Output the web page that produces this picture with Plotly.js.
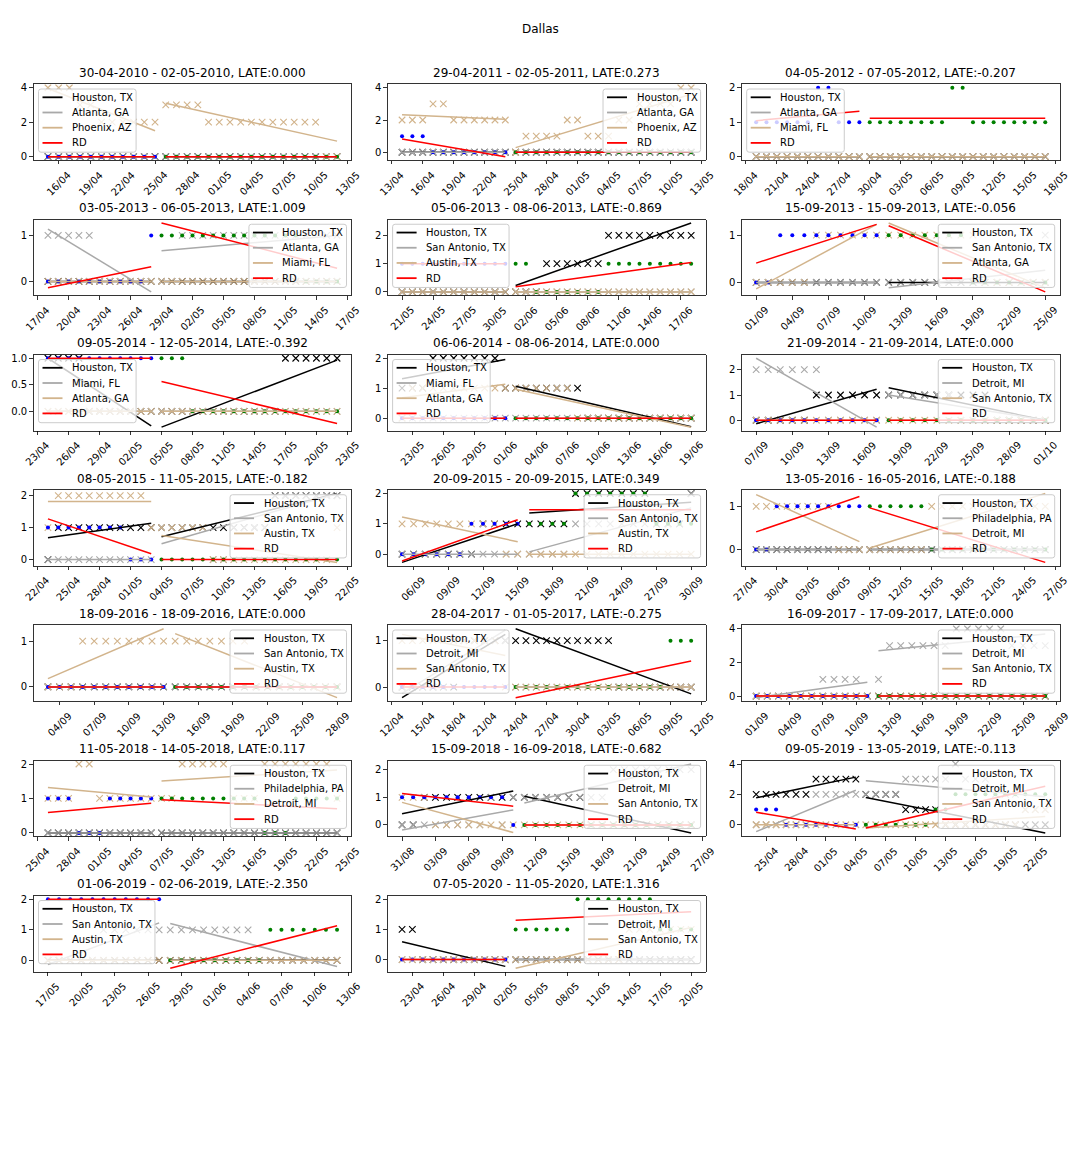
<!DOCTYPE html>
<html><head><meta charset="utf-8">
<script src="https://cdn.plot.ly/plotly-3.0.1.min.js"></script>
<style>html,body{margin:0;padding:0;background:#fff}</style>
</head><body><div id="chart" style="width:1080px;height:1152px"></div>
<script>
// ---------------- DATA ----------------
const suptitle = 'Dallas';
const titles = [
 '30-04-2010 - 02-05-2010, LATE:0.000','29-04-2011 - 02-05-2011, LATE:0.273','04-05-2012 - 07-05-2012, LATE:-0.207',
 '03-05-2013 - 06-05-2013, LATE:1.009','05-06-2013 - 08-06-2013, LATE:-0.869','15-09-2013 - 15-09-2013, LATE:-0.056',
 '09-05-2014 - 12-05-2014, LATE:-0.392','06-06-2014 - 08-06-2014, LATE:0.000','21-09-2014 - 21-09-2014, LATE:0.000',
 '08-05-2015 - 11-05-2015, LATE:-0.182','20-09-2015 - 20-09-2015, LATE:0.349','13-05-2016 - 16-05-2016, LATE:-0.188',
 '18-09-2016 - 18-09-2016, LATE:0.000','28-04-2017 - 01-05-2017, LATE:-0.275','16-09-2017 - 17-09-2017, LATE:0.000',
 '11-05-2018 - 14-05-2018, LATE:0.117','15-09-2018 - 16-09-2018, LATE:-0.682','09-05-2019 - 13-05-2019, LATE:-0.113',
 '01-06-2019 - 02-06-2019, LATE:-2.350','07-05-2020 - 11-05-2020, LATE:1.316'];
const city1Name = 'Houston, TX';
const city2Names = ['Atlanta, GA','Atlanta, GA','Atlanta, GA','Atlanta, GA','San Antonio, TX','San Antonio, TX','Miami, FL','Miami, FL','Detroit, MI','San Antonio, TX','San Antonio, TX','Philadelphia, PA','San Antonio, TX','Detroit, MI','Detroit, MI','Philadelphia, PA','Detroit, MI','Detroit, MI','San Antonio, TX','Detroit, MI'];
const city3Names = ['Phoenix, AZ','Phoenix, AZ','Miami, FL','Miami, FL','Austin, TX','Atlanta, GA','Atlanta, GA','Atlanta, GA','San Antonio, TX','Austin, TX','Austin, TX','Detroit, MI','Austin, TX','San Antonio, TX','San Antonio, TX','Detroit, MI','San Antonio, TX','San Antonio, TX','Austin, TX','San Antonio, TX'];
const rdName = 'RD';
const preStarts = ['2010-04-15','2011-04-14','2012-04-19','2013-04-18','2013-05-21','2013-09-01','2014-04-24','2014-05-22','2014-09-07','2015-04-23','2015-09-05','2016-04-28','2016-09-03','2017-04-13','2017-09-01','2018-04-26','2018-08-31','2019-04-24','2019-05-17','2020-04-22'];
const postStarts = ['2010-04-26','2011-04-25','2012-04-30','2013-04-29','2013-06-01','2013-09-12','2014-05-05','2014-06-02','2014-09-18','2015-05-04','2015-09-16','2016-05-09','2016-09-14','2017-04-24','2017-09-12','2018-05-07','2018-09-11','2019-05-05','2019-05-28','2020-05-03'];
const tickStarts = ['2010-04-16','2011-04-13','2012-04-18','2013-04-17','2013-05-21','2013-09-01','2014-04-23','2014-05-23','2014-09-07','2015-04-22','2015-09-06','2016-04-27','2016-09-04','2017-04-12','2017-09-01','2018-04-25','2018-08-31','2019-04-25','2019-05-17','2020-04-23'];
const yTickSteps = [2,2,1,1,1,1,0.5,1,1,1,1,1,1,1,2,1,1,2,1,1];

const houstonPre = [
 [0,0,0,0,0,0,0,0,0,0,0],[0,0,0,0,0,0,0,0,0,0,0],[0,0,0,0,0,0,0,0,0,0,0],
 [0,0,0,0,0,0,0,0,0,0,0],[0,0,0,0,0,0,0,0,0,0,0],[0,0,0,0,0,0,0,0,0,0,0],
 [1,1,1,1,0,0,0,0,0,0,0],[1,1,1,2,2,2,2,2,2,2,1],[0,0,0,0,0,1,1,1,1,1,1],
 [0,1,1,1,1,1,1,1,1,1,1],[0,0,0,0,0,0,0,1,1,1,1],[0,0,0,0,0,0,0,0,0,0,0],
 [0,0,0,0,0,0,0,0,0,0,0],[0,0,0,0,0,0,1,1,1,1,1],[0,0,0,0,0,0,0,0,0,0,0],
 [0,0,0,0,0,0,0,0,0,0,0],[0,0,1,1,1,1,1,1,1,1,1],[2,2,2,2,2,2,3,3,3,3,3],
 [0,0,0,0,0,0,0,0,0,0,0],[1,1,0,0,0,0,0,0,0,0,0]];
const houstonPost = [
 [0,0,0,0,0,0,0,0,0,0,0,0,0,0,0,0,0],
 [0,0,0,0,0,0,0,0,0,0,0,0,0,0,0,0,0,0],
 [0,0,0,0,0,0,0,0,0,0,0,0,0,0,0,0,0,0],
 [0,0,0,0,0,0,0,0,0,0,0,0,0,0,0,0,0,0],
 [0,0,0,1,1,1,1,1,1,2,2,2,2,2,2,2,2,2],
 [0,0,0,0,0,0,0,0,0,0,0,0,0,0],
 [0,0,0,0,0,0,0,0,0,0,0,0,1,1,1,1,1,1],
 [1,1,1,1,1,1,1,0,0,0,0,0,0,0,0,0,0,0],
 [1,1,1,1,1,1,1,1,1,0,0,0,0,0],
 [1,1,1,1,1,1,1,1,1,1,1,2,2,2,2,2,2,2],
 [1,1,1,1,2,2,2,2,2,2,2,1,1,1,2],
 [0,0,0,0,0,0,0,0,0,0,0,0,0,0,0,0,0,0],
 [0,0,0,0,0,0,0,0,0,0,0,0,0,0,0],
 [1,1,1,1,1,1,1,1,1,1,0,0,0,0,0,0,0,0],
 [0,0,0,0,0,0,0,0,0,0,0,0,0,0,0,0],
 [0,0,0,0,0,0,0,0,0,0,0,0,0,0,0,0,0,0],
 [1,1,1,1,1,1,0,0,0,0,0,0,0,0,0,0],
 [2,2,2,2,1,1,1,1,0,0,0,0,0,0,0,0,0,0,0],
 [0,0,0,0,0,0,0,0,0,0,0,0,0,0,0,0],
 [0,0,0,0,0,0,0,0,0,0,0,0,0,0,0,0,0,0]];
const city2Pre = [
 [0,0,0,0,0,0,0,0,0,0,0],[0,0,0,0,0,0,0,0,0,0,0],[0,0,0,0,0,0,0,0,0,0,0],
 [1,1,1,1,1,0,0,0,0,0,0],[0,0,0,0,0,0,0,0,0,0,0],[0,0,0,0,0,0,0,0,0,0,0],
 [0,0,0,0,0,0,0,0,0,0,0],[0,0,0,0,0,0,0,0,0,0,0],[2,2,2,2,2,2,0,0,0,0,0],
 [0,0,0,0,0,0,0,0,0,0,0],[0,0,0,0,0,0,0,0,0,0,0],[0,0,0,0,0,0,0,0,0,0,0],
 [0,0,0,0,0,0,0,0,0,0,0],[0,0,0,0,0,1,1,1,1,1,1],[0,0,0,0,0,0,1,1,1,1,0],
 [0,0,0,0,0,0,0,0,0,0,0],[0,0,0,0,0,0,0,0,1,0,1],[0,0,0,0,0,0,2,2,2,2,2],
 [0,0,0,0,0,1,1,1,1,1,1],[0,0,0,0,0,0,0,0,0,0,0]];
const city2Post = [
 [0,0,0,0,0,0,0,0,0,0,0,0,0,0,0,0,0],
 [0,0,0,0,0,0,0,0,0,0,0,0,0,0,0,0,0,0],
 [0,0,0,0,0,0,0,0,0,0,0,0,0,0,0,0,0,0],
 [0,0,1,1,1,1,1,1,1,1,1,1,1,1,1,0,1,1],
 [0,0,0,0,0,0,0,0,0,0,0,0,0,0,0,0,0,0],
 [0,0,0,0,0,0,0,0,0,0,0,0,0,1],
 [0,0,0,0,0,0,0,0,0,0,0,0,0,0,0,0,0,0],
 [0,0,0,0,0,0,0,0,0,0,0,0,0,0,0,0,0,0],
 [1,1,1,1,1,1,0,0,0,0,0,0,0,1],
 [1,1,1,1,1,0,0,1,1,1,1,2,2,2,2,2,2,2],
 [0,0,0,0,1,1,1,1,1,1,1,1,1,1,2],
 [0,0,0,0,0,0,0,0,0,0,0,0,0,0,0,0,0,0],
 [0,0,0,0,0,0,0,0,0,0,0,0,0,0,0],
 [0,0,0,0,0,0,0,0,0,0,0,0,0,0,0,0,0,0],
 [1,3,3,3,3,3,3,4,4,4,4,4,3,3,3,3],
 [0,0,0,0,0,0,0,0,0,0,0,0,0,0,0,0,0,0],
 [1,1,1,1,1,1,1,1,2,2,2,2,2,2,2,2],
 [2,2,2,2,3,3,3,3,3,4,3,3,3,2,2,2,1,1,1],
 [1,1,1,1,1,1,1,1,0,0,0,0,0,0,0,0],
 [0,0,0,0,0,0,0,0,0,0,0,0,0,0,0,0,0,0]];
const city3Pre = [
 [4,4,4,3,3,2,2,2,2,2,2],[2,2,2,3,3,2,2,2,2,2,2],[0,0,0,0,0,0,0,0,0,0,0],
 [0,0,0,0,0,0,0,0,0,0,0],[0,0,0,0,0,0,0,0,0,0,0],[0,0,0,0,0,1,1,1,1,1,1],
 [0,0,0,0,0,0,0,0,0,0,0],[0,1,1,1,1,1,1,1,1,1,1],[0,0,0,0,0,0,0,0,0,0,0],
 [1,2,2,2,2,2,2,2,2,2,1],[1,1,1,1,1,1,1,1,1,0,0],[1,1,1,1,1,1,1,1,0,0,0],
 [0,0,0,1,1,1,1,1,1,1,1],[1,1,1,1,1,1,1,1,1,1,0],[0,0,0,0,0,0,0,0,0,0,0],
 [1,1,1,2,2,1,1,1,1,1,1],[1,1,1,0,0,0,0,0,0,0,0],[0,0,0,0,0,0,0,0,0,0,0],
 [0,0,0,0,0,0,0,0,0,0,0],[0,0,0,0,0,0,0,0,0,0,0]];
const city3Post = [
 [3,3,3,3,2,2,2,2,2,2,2,2,2,2,2,0,0],
 [0,1,1,1,1,2,2,1,1,1,2,2,3,3,3,3,4,4],
 [0,0,0,0,0,0,0,0,0,0,0,0,0,0,0,0,0,0],
 [0,0,0,0,0,0,0,0,0,0,0,0,0,0,0,0,0,0],
 [0,0,0,0,0,0,0,0,0,0,0,0,0,0,0,0,0,0],
 [1,1,1,1,1,1,1,1,0,0,0,0,0,0],
 [0,0,0,0,0,0,0,0,0,0,0,0,0,0,0,0,0,0],
 [1,1,1,1,1,1,0,0,0,0,0,0,0,0,0,0,0,0],
 [0,0,0,0,0,0,0,0,0,0,0,0,0,0],
 [1,1,1,1,1,0,0,0,0,0,0,0,0,0,0,0,0,1],
 [0,0,0,0,0,0,0,0,0,0,0,0,0,0,0],
 [0,0,0,0,0,0,1,1,1,1,1,1,1,1,1,1,1,1],
 [1,1,1,1,1,1,1,0,0,0,0,0,0,0,0],
 [0,0,0,0,0,0,0,0,0,0,0,0,0,0,0,0,0,0],
 [0,0,0,0,0,0,0,0,0,0,0,0,0,0,0,0],
 [1,1,2,2,2,2,2,1,1,1,2,2,2,2,2,2,2,1],
 [0,0,0,0,0,0,0,0,0,0,0,0,0,0,0,0],
 [0,0,0,0,0,0,0,0,0,0,0,0,0,0,0,0,1,1,1],
 [0,0,0,0,0,0,0,0,0,0,0,0,0,0,0,0],
 [0,0,0,0,0,0,0,0,0,0,0,1,1,1,1,1,1,1]];
const rdPre = [
 [0,0,0,0,0,0,0,0,0,0,0],[1,1,1,0,0,0,0,0,0,0,0],[1,1,1,1,1,1,2,2,1,1,1],
 [0,0,0,0,0,0,0,0,0,0,1],[1,1,1,1,1,1,1,1,1,1,1],[0,0,1,1,1,1,1,1,1,1,1],
 [1,1,1,1,1,1,1,1,1,1,1],[0,0,0,0,0,0,0,0,0,0,0],[0,0,0,0,0,0,0,0,0,0,0],
 [1,1,1,1,1,1,1,1,0,0,0],[0,0,0,0,0,0,1,1,1,1,1],[0,0,1,1,1,1,1,1,1,1,1],
 [0,0,0,0,0,0,0,0,0,0,0],[0,0,0,0,0,0,0,0,0,0,0],[0,0,0,0,0,0,0,0,0,0,0],
 [1,1,1,0,0,0,1,1,1,1,1],[1,1,1,1,1,1,1,1,1,1,0],[1,1,1,0,0,0,0,0,0,0,0],
 [2,2,2,2,2,2,2,2,2,2,2],[0,0,0,0,0,0,0,0,0,0,0]];
const rdPost = [
 [0,0,0,0,0,0,0,0,0,0,0,0,0,0,0,0,0],
 [0,0,0,0,0,0,0,0,0,0,0,0,0,0,0,0,0,0],
 [1,1,1,1,1,1,1,1,2,2,1,1,1,1,1,1,1,1],
 [1,1,1,1,1,1,1,1,1,1,1,1,1,1,0,0,0,0],
 [1,1,0,0,0,0,0,0,0,1,1,1,1,1,1,1,1,1],
 [1,1,1,1,1,1,1,0,0,0,0,0,0,0],
 [1,1,1,0,0,0,0,0,0,0,0,0,0,0,0,0,0,0],
 [0,0,0,0,0,0,0,0,0,0,0,0,0,0,0,0,0,0],
 [0,0,0,0,0,0,0,0,0,0,0,0,0,0],
 [0,0,0,0,0,0,0,0,0,0,0,0,0,0,0,0,0,0],
 [1,1,1,1,2,2,2,2,2,2,2,1,1,1,1],
 [1,1,1,1,1,1,0,0,0,0,0,0,0,0,0,0,0,0],
 [0,0,0,0,0,0,0,0,0,0,0,0,0,0,0],
 [0,0,0,0,0,0,0,0,0,0,0,0,0,0,0,1,1,1],
 [0,0,0,0,0,0,0,0,0,0,0,0,0,0,0,0],
 [1,1,1,1,1,1,1,1,1,1,0,0,0,1,1,1,1,1],
 [0,0,0,0,0,0,0,0,0,0,0,0,0,0,0,0],
 [0,0,0,0,0,0,0,1,1,2,2,2,2,2,2,2,2,2,2],
 [0,0,0,0,0,0,0,0,0,1,1,1,1,1,1,1],
 [1,1,1,1,1,1,2,2,2,2,2,2,2,2,1,1,1,1]];

// ---------------- LAYOUT / STYLE ----------------
const W = 1080, H = 1152, DAY = 86400000;
const COLL = [33.5, 387.6, 741.7], AXW = 318, ROWT0 = 84.3, ROWSTEP = 135.25, AXH = 75.8;
const legendSides = ['L','R','L','R','L','R','L','L','R','R','R','R','R','L','R','R','R','R','L','R'];
const FONT = 'DejaVu Sans';
const COL = {h:'#000000', c2:'#a9a9a9', c3:'#d2b48c', rd:'#ff0000', pre:'#0000ff', post:'#008000'};

function parseD(s){const p=s.split('-').map(Number);return Date.UTC(p[0],p[1]-1,p[2]);}
function fmt(ms){return new Date(ms).toISOString().slice(0,19).replace('T',' ');}
function dm(ms){const d=new Date(ms);return String(d.getUTCDate()).padStart(2,'0')+'/'+String(d.getUTCMonth()+1).padStart(2,'0');}
function ols(v){const n=v.length,xm=(n-1)/2;const ym=v.reduce((a,b)=>a+b,0)/n;let sxy=0,sxx=0;
  v.forEach((y,k)=>{sxy+=(k-xm)*(y-ym);sxx+=(k-xm)*(k-xm);});const b=sxx?sxy/sxx:0;return [ym-b*xm, ym+b*(n-1-xm)];}
const PX = v => v/W, PY = v => 1 - v/H;
function rrect(x0,y0,x1,y1,r){
  const X=v=>PX(v).toFixed(5), Y=v=>PY(v).toFixed(5);
  return `M${X(x0+r)},${Y(y0)} L${X(x1-r)},${Y(y0)} Q${X(x1)},${Y(y0)} ${X(x1)},${Y(y0+r)} L${X(x1)},${Y(y1-r)} Q${X(x1)},${Y(y1)} ${X(x1-r)},${Y(y1)} L${X(x0+r)},${Y(y1)} Q${X(x0)},${Y(y1)} ${X(x0)},${Y(y1-r)} L${X(x0)},${Y(y0+r)} Q${X(x0)},${Y(y0)} ${X(x0+r)},${Y(y0)} Z`;
}
const ctx = document.createElement('canvas').getContext('2d');
ctx.font = '10px "DejaVu Sans"';

const traces = [], shapes = [], annotations = [];
const layout = {width:W, height:H, margin:{l:0,r:0,t:0,b:0}, paper_bgcolor:'#fff', plot_bgcolor:'#fff',
  showlegend:false, font:{family:FONT, size:10, color:'#000'}};

annotations.push({xref:'paper',yref:'paper',x:0.5,y:PY(29),xanchor:'center',yanchor:'middle',showarrow:false,
  text:suptitle,font:{family:FONT,size:12,color:'#000'}});

for (let i=0;i<20;i++){
  const r=Math.floor(i/3), c=i%3;
  const L=COLL[c], R=L+AXW, T=ROWT0+ROWSTEP*r, B=T+AXH;
  const s=(i===0)?'':String(i+1);
  const xa='x'+s, ya='y'+s;
  const p0=parseD(preStarts[i]), q0=parseD(postStarts[i]);
  const nPre=rdPre[i].length, nPost=rdPost[i].length;
  const preX=[],postX=[];
  for(let k=0;k<nPre;k++) preX.push(fmt(p0+k*DAY));
  for(let k=0;k<nPost;k++) postX.push(fmt(q0+k*DAY));
  const series=[
    {pre:houstonPre[i],post:houstonPost[i],col:COL.h,name:city1Name},
    {pre:city2Pre[i],post:city2Post[i],col:COL.c2,name:city2Names[i]},
    {pre:city3Pre[i],post:city3Post[i],col:COL.c3,name:city3Names[i]},
  ];
  let allY=[];
  // x markers for cities
  series.forEach(sr=>{
    traces.push({type:'scatter',mode:'markers',xaxis:xa,yaxis:ya,x:preX.concat(postX),y:sr.pre.concat(sr.post),
      marker:{symbol:'x-thin',size:6.5,color:sr.col,line:{width:1.1,color:sr.col}},hoverinfo:'skip'});
    allY=allY.concat(sr.pre,sr.post);
  });
  // RD dots
  traces.push({type:'scatter',mode:'markers',xaxis:xa,yaxis:ya,x:preX,y:rdPre[i],marker:{symbol:'circle',size:4,color:COL.pre},hoverinfo:'skip'});
  traces.push({type:'scatter',mode:'markers',xaxis:xa,yaxis:ya,x:postX,y:rdPost[i],marker:{symbol:'circle',size:4,color:COL.post},hoverinfo:'skip'});
  allY=allY.concat(rdPre[i],rdPost[i]);
  // fitted lines
  const lineSeries=series.concat([{pre:rdPre[i],post:rdPost[i],col:COL.rd,name:rdName}]);
  lineSeries.forEach(sr=>{
    const fa=ols(sr.pre), fb=ols(sr.post);
    traces.push({type:'scatter',mode:'lines',xaxis:xa,yaxis:ya,x:[preX[0],preX[nPre-1]],y:fa,line:{color:sr.col,width:1.5},hoverinfo:'skip'});
    traces.push({type:'scatter',mode:'lines',xaxis:xa,yaxis:ya,x:[postX[0],postX[nPost-1]],y:fb,line:{color:sr.col,width:1.5},hoverinfo:'skip'});
    allY=allY.concat(fa,fb);
  });
  // ranges
  const x0=p0, x1=q0+(nPost-1)*DAY, xs=x1-x0;
  const xr0=x0-0.05*xs, xr1=x1+0.05*xs;
  const ymin=Math.min(...allY), ymax=Math.max(...allY), ysp=ymax-ymin;
  const yr0=ymin-0.05*ysp, yr1=ymax+0.05*ysp;
  let t=parseD(tickStarts[i]); while(t-3*DAY>=xr0) t-=3*DAY;
  const ticks=[]; for(;t<=xr1;t+=3*DAY){ if(t>=xr0) ticks.push(t); }
  layout['xaxis'+s]={domain:[PX(L),PX(R)],anchor:ya,type:'date',range:[fmt(xr0),fmt(xr1)],
    tickmode:'array',tickvals:ticks.map(fmt),showticklabels:false,ticks:'outside',ticklen:3.5,tickwidth:0.8,tickcolor:'#000',
    showline:true,linecolor:'#000',linewidth:0.8,mirror:true,showgrid:false,zeroline:false,fixedrange:true,automargin:false};
  layout['yaxis'+s]={domain:[PY(B),PY(T)],anchor:xa,range:[yr0,yr1],tickmode:'linear',tick0:0,dtick:yTickSteps[i],
    tickformat:yTickSteps[i]<1?'.1f':'d',ticks:'outside',ticklen:3.5,tickwidth:0.8,tickcolor:'#000',
    tickfont:{family:FONT,size:10,color:'#000'},showline:true,linecolor:'#000',linewidth:0.8,mirror:true,
    showgrid:false,zeroline:false,fixedrange:true,automargin:false};
  // x tick labels (rotated, centred like matplotlib)
  ticks.forEach(tv=>{
    annotations.push({xref:xa,yref:'paper',x:fmt(tv),y:PY(B),xanchor:'center',yanchor:'top',yshift:-6,
      textangle:-45,showarrow:false,text:dm(tv),font:{family:FONT,size:10,color:'#000'}});
  });
  // title
  annotations.push({xref:'paper',yref:'paper',x:PX((L+R)/2),y:PY(T-2.5),xanchor:'center',yanchor:'bottom',showarrow:false,
    text:titles[i],font:{family:FONT,size:12,color:'#000'}});
  // legend
  const names=[city1Name,city2Names[i],city3Names[i],rdName];
  const cols=[COL.h,COL.c2,COL.c3,COL.rd];
  const tw=Math.max(...names.map(n=>ctx.measureText(n).width));
  const lw=32.7+tw+4, lh=63.2;
  const lx0=legendSides[i]==='L'?L+5:R-5-lw, ly0=T+4.7;
  shapes.push({type:'path',xref:'paper',yref:'paper',path:rrect(lx0,ly0,lx0+lw,ly0+lh,2.5),
    fillcolor:'rgba(255,255,255,0.8)',line:{color:'#cccccc',width:1},layer:'above'});
  names.forEach((nm,k)=>{
    const cy=ly0+8.3+15.2*k;
    shapes.push({type:'line',xref:'paper',yref:'paper',x0:PX(lx0+4),x1:PX(lx0+24),y0:PY(cy),y1:PY(cy),
      line:{color:cols[k],width:1.8},layer:'above'});
    annotations.push({xref:'paper',yref:'paper',x:PX(lx0+31.5),y:PY(cy),xanchor:'left',yanchor:'middle',showarrow:false,
      text:nm,font:{family:FONT,size:10,color:'#000'}});
  });
}
layout.shapes=shapes; layout.annotations=annotations;
Plotly.newPlot('chart',traces,layout,{staticPlot:true,displayModeBar:false});
</script></body></html>
